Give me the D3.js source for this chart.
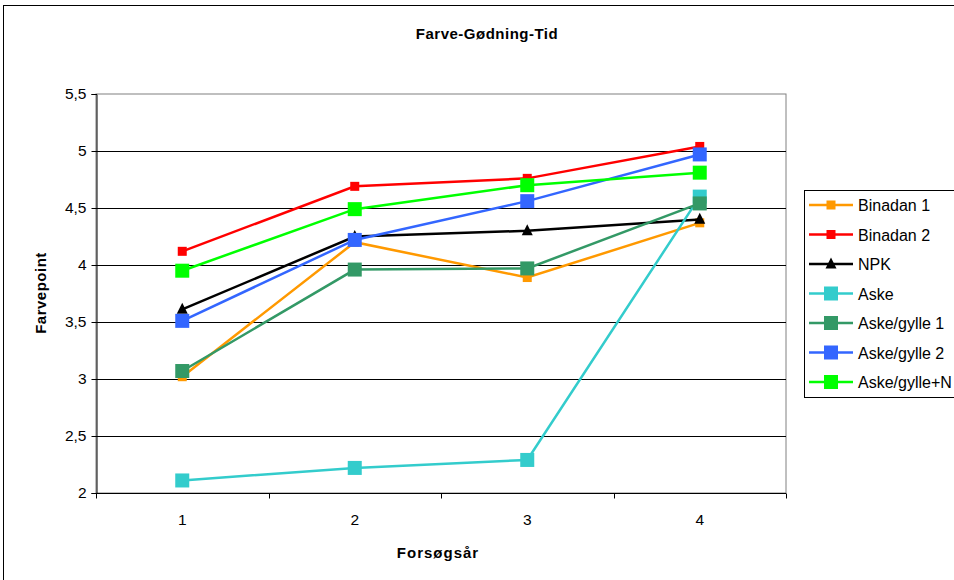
<!DOCTYPE html>
<html>
<head>
<meta charset="utf-8">
<script src="https://cdn.jsdelivr.net/npm/d3@7"></script>
<style>
  html, body { margin: 0; padding: 0; background: #fff; }
  svg { display: block; font-family: "Liberation Sans", Arial, sans-serif; }
</style>
</head>
<body>
<svg id="chart" width="954" height="580"></svg>
<script>
// Trial years on the x axis
const years = ["1", "2", "3", "4"];

// Colour score per treatment, one value per year
const binadan1   = [3.02, 4.20, 3.89, 4.37];
const binadan2   = [4.12, 4.69, 4.76, 5.04];
const npk        = [3.61, 4.25, 4.30, 4.40];
const aske       = [2.11, 2.22, 2.29, 4.60];
const askeGylle1 = [3.07, 3.96, 3.97, 4.54];
const askeGylle2 = [3.51, 4.22, 4.56, 4.97];
const askeGylleN = [3.95, 4.49, 4.70, 4.81];

const yTicks = [2, 2.5, 3, 3.5, 4, 4.5, 5, 5.5];

const series = [
  { name: "Binadan 1",     values: binadan1,   color: "#FF9900", marker: "square", size: 9 },
  { name: "Binadan 2",     values: binadan2,   color: "#FF0000", marker: "square", size: 9 },
  { name: "NPK",           values: npk,        color: "#000000", marker: "triangle", size: 11 },
  { name: "Aske",          values: aske,       color: "#33CCCC", marker: "square", size: 14 },
  { name: "Aske/gylle 1",  values: askeGylle1, color: "#339966", marker: "square", size: 14 },
  { name: "Aske/gylle 2",  values: askeGylle2, color: "#3366FF", marker: "square", size: 14 },
  { name: "Aske/gylle+N",  values: askeGylleN, color: "#00FF00", marker: "square", size: 14 }
];

const svg = d3.select("#chart");
const plot = { left: 96, right: 786, top: 94, bottom: 493 };

// Outer chart frame
svg.append("rect")
  .attr("x", 3.5).attr("y", 5.5)
  .attr("width", 1000).attr("height", 1000)
  .attr("fill", "#fff").attr("stroke", "#000").attr("stroke-width", 1);

const x = d3.scaleBand().domain(years).range([plot.left, plot.right]);
const y = d3.scaleLinear().domain([2, 5.5]).range([plot.bottom, plot.top]);

// Plot area border
svg.append("rect")
  .attr("x", plot.left).attr("y", plot.top)
  .attr("width", plot.right - plot.left).attr("height", plot.bottom - plot.top)
  .attr("fill", "none").attr("stroke", "#808080").attr("stroke-width", 1);

// Horizontal gridlines
svg.append("g").selectAll("line")
  .data(yTicks.filter(t => t > 2 && t < 5.5))
  .join("line")
  .attr("x1", plot.left).attr("x2", plot.right)
  .attr("y1", d => Math.round(y(d)) + 0.5).attr("y2", d => Math.round(y(d)) + 0.5)
  .attr("stroke", "#000").attr("stroke-width", 1);

// Y axis
const yAxis = svg.append("g")
  .attr("transform", `translate(${plot.left + 0.5},0)`)
  .call(d3.axisLeft(y).tickValues(yTicks).tickSize(5).tickPadding(5)
    .tickFormat(d => String(d).replace(".", ",")));
yAxis.select(".domain").attr("stroke", "#000");
yAxis.selectAll("text").attr("font-size", 15.5).attr("fill", "#000")
  .attr("font-family", "Liberation Sans, Arial, sans-serif");

// X axis with ticks between categories
const xAxisG = svg.append("g").attr("transform", `translate(0,${plot.bottom + 0.5})`);
xAxisG.append("line")
  .attr("x1", plot.left).attr("x2", plot.right)
  .attr("stroke", "#000");
const bounds = years.map(d => x(d)).concat([plot.right]);
xAxisG.selectAll("line.tick").data(bounds).join("line")
  .attr("class", "tick")
  .attr("x1", d => Math.round(d) + 0.5).attr("x2", d => Math.round(d) + 0.5)
  .attr("y1", 0).attr("y2", 5).attr("stroke", "#000");
xAxisG.selectAll("text").data(years).join("text")
  .attr("x", d => x(d) + x.bandwidth() / 2)
  .attr("y", 31)
  .attr("text-anchor", "middle")
  .attr("font-size", 15.5)
  .text(d => d);

// Lines and markers
const line = d3.line()
  .x((d, i) => x(years[i]) + x.bandwidth() / 2)
  .y(d => y(d));

function drawMarker(g, s, cx, cy) {
  if (s.marker === "triangle") {
    const h = s.size;
    g.append("path")
      .attr("d", `M${cx},${cy - h * 0.6} L${cx + h / 2},${cy + h * 0.4} L${cx - h / 2},${cy + h * 0.4} Z`)
      .attr("fill", s.color);
  } else {
    g.append("rect")
      .attr("x", cx - s.size / 2).attr("y", cy - s.size / 2)
      .attr("width", s.size).attr("height", s.size)
      .attr("fill", s.color);
  }
}

series.forEach(s => {
  const g = svg.append("g");
  g.append("path")
    .attr("d", line(s.values))
    .attr("fill", "none")
    .attr("stroke", s.color)
    .attr("stroke-width", 2.5);
  s.values.forEach((v, i) => drawMarker(g, s, x(years[i]) + x.bandwidth() / 2, y(v)));
});

// Title and axis titles
svg.append("text")
  .attr("x", 487).attr("y", 39)
  .attr("text-anchor", "middle")
  .attr("font-size", 15).attr("font-weight", "bold")
  .attr("letter-spacing", 0.5)
  .text("Farve-Gødning-Tid");

svg.append("text")
  .attr("x", 438).attr("y", 558)
  .attr("text-anchor", "middle")
  .attr("font-size", 15).attr("font-weight", "bold")
  .attr("letter-spacing", 1)
  .text("Forsøgsår");

svg.append("text")
  .attr("transform", "translate(46,293) rotate(-90)")
  .attr("text-anchor", "middle")
  .attr("font-size", 15).attr("font-weight", "bold")
  .attr("letter-spacing", 0.5)
  .text("Farvepoint");

// Legend
const legend = svg.append("g");
legend.append("rect")
  .attr("x", 804.5).attr("y", 190.5)
  .attr("width", 200).attr("height", 207)
  .attr("fill", "#fff").attr("stroke", "#000");
series.forEach((s, i) => {
  const ly = 205 + i * 29.5;
  const g = legend.append("g");
  g.append("line")
    .attr("x1", 809).attr("x2", 853)
    .attr("y1", ly).attr("y2", ly)
    .attr("stroke", s.color).attr("stroke-width", 2.5);
  drawMarker(g, s, 831, ly);
  g.append("text")
    .attr("x", 858).attr("y", ly + 6)
    .attr("font-size", 16)
    .text(s.name);
});
</script>
</body>
</html>
